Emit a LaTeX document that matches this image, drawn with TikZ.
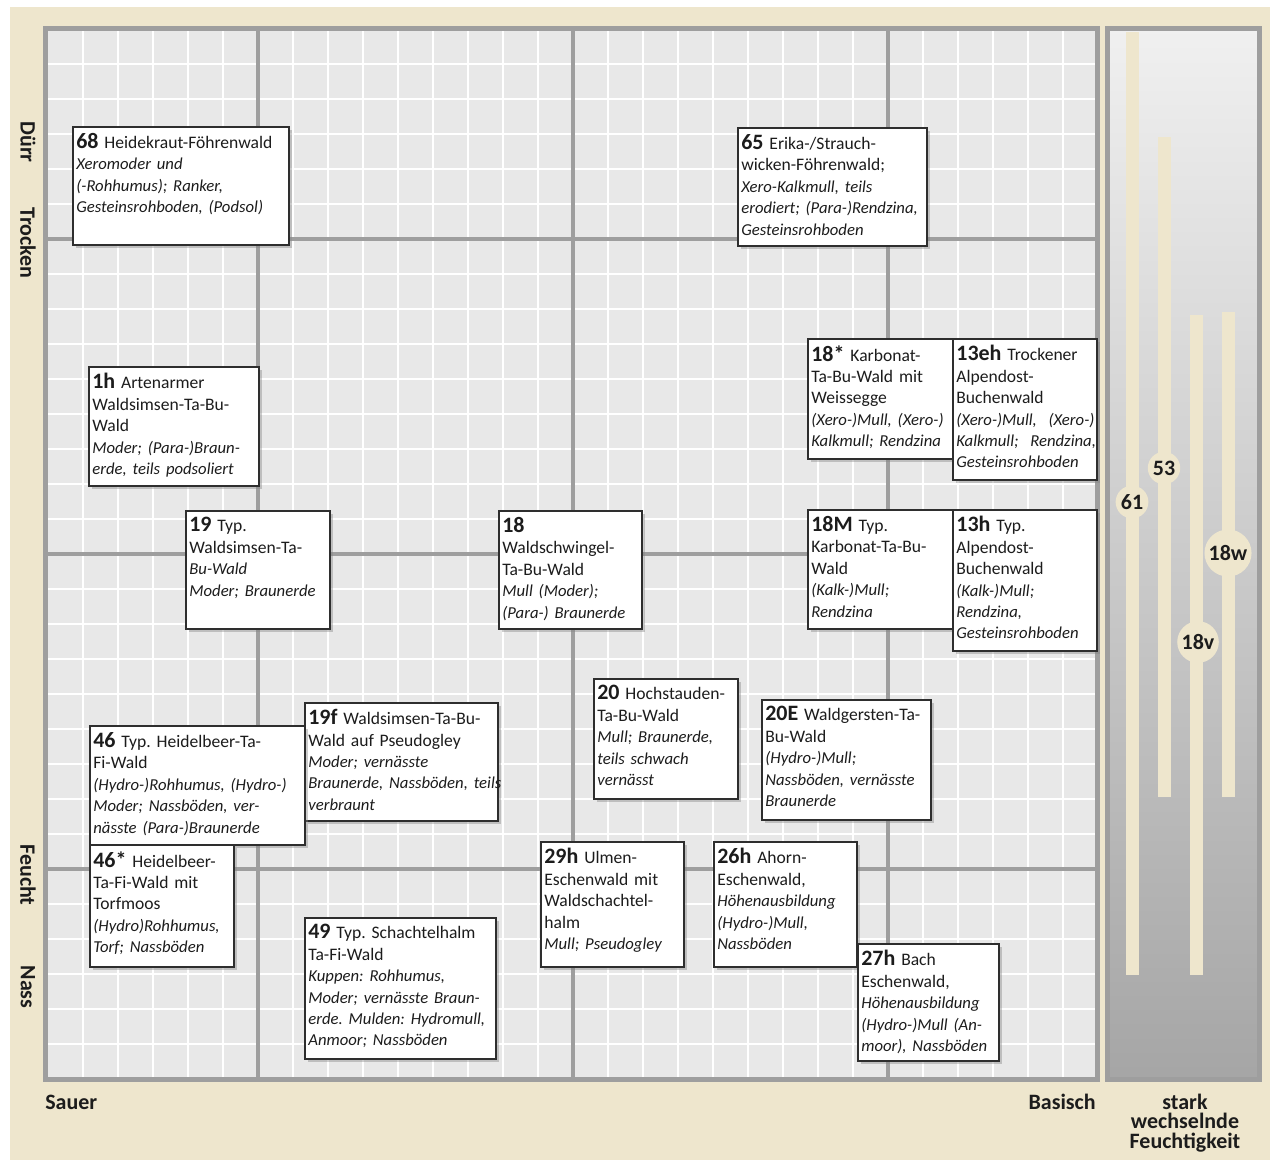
\documentclass[tikz,border=0pt]{standalone}
\usepackage{fontspec}
\setmainfont{Carlito}
\usepackage{xcolor}
\usepackage{tikz}
\usetikzlibrary{shadows}
\definecolor{sand}{HTML}{EEE6CD}
\definecolor{feld}{HTML}{E8E8E8}
\definecolor{linie}{HTML}{9E9E9E}
\definecolor{rahmen}{HTML}{2E2E2E}
\definecolor{schrift}{HTML}{1C1C1C}
\tikzset{
 wbox/.style={draw=rahmen,fill=white,line width=1pt,anchor=north west,inner sep=0pt,
   drop shadow={shadow xshift=1.8pt,shadow yshift=-1.8pt,opacity=.4}},
 wtext/.style={anchor=north west,inner sep=0pt,align=left,text=schrift,text width=8cm,
   font=\fontsize{10}{12.2}\selectfont\frenchspacing},
 achse/.style={inner sep=0pt,text=schrift,font=\fontsize{12.5}{11.3}\selectfont\bfseries},
 balken/.style={fill=sand,draw=none},
 stufe/.style={circle,fill=sand,inner sep=1.2pt,text=schrift,font=\fontsize{12.5}{12.5}\selectfont\bfseries}
}
\newcommand*{\wnum}[1]{{\fontsize{12.5}{12.2}\selectfont\bfseries #1}}
\newcommand*{\bod}[1]{{\fontsize{9.5}{12.2}\selectfont\itshape #1}}
\newcommand*{\waldbox}[7]{%
 \pgfmathsetlengthmacro\wbw{#4*0.02cm}\pgfmathsetlengthmacro\wbh{#5*0.02cm}%
 \node[wbox,minimum width=\wbw,minimum height=\wbh](#1)at(#2,#3){};
 \node[wtext](#1-t)at(#2+4,#3+7){\wnum{#6} #7};}

\begin{document}
\begin{tikzpicture}[x=0.02cm,y=-0.02cm]
\useasboundingbox(0,0)rectangle(1270,1160);
\fill[white](0,0)rectangle(1270,1160);
\fill[sand](10,7)rectangle(1270,1160);
%grid field
\begin{scope}
\clip(48,31)rectangle(1095,1077);
\fill[feld](48,31)rectangle(1095,1077);
\foreach\k in{1,...,30}{
 \draw[white,line width=1pt](48+35*\k,0)--(48+35*\k,1100);
 \draw[white,line width=1pt](0,29+35*\k)--(1100,29+35*\k);}
\foreach\k in{6,15,24}{
 \draw[linie,line width=2.2pt](48+35*\k,0)--(48+35*\k,1100);
 \draw[linie,line width=2.2pt](0,29+35*\k)--(1100,29+35*\k);}
\end{scope}
\draw[linie,line width=2.8pt](45.5,28.5)rectangle(1097.5,1079.5);
%side panel
\shade[top color=black!6,bottom color=black!35](1110,31)rectangle(1257,1077);
\draw[linie,line width=2.8pt](1107.5,28.5)rectangle(1259.5,1079.5);
\fill[balken](1126,32)rectangle(1139,975);
\fill[balken](1158,137)rectangle(1171,797);
\fill[balken](1190,315)rectangle(1203,975);
\fill[balken](1222,312)rectangle(1235,797);
\node[stufe](s61)at(1132,502){61};
\node[stufe](s53)at(1164,468){53};
\node[stufe](s18w)at(1228,553){18w};
\node[stufe](s18v)at(1198,642){18v};
%axes
\node[achse,rotate=-90](duerr)at(28,142){Dürr};
\node[achse,rotate=-90](trocken)at(28,243){Trocken};
\node[achse,rotate=-90](feucht)at(28,875){Feucht};
\node[achse,rotate=-90](nass)at(28,987){Nass};
\node[achse,anchor=west](sauer)at(45,1102){Sauer};
\node[achse,anchor=east](basisch)at(1096,1102){Basisch};
\node[achse,align=center](wechsel)at(1185,1123){stark\\wechselnde\\Feuchtigkeit};
%boxes
\waldbox{n68}{72}{126}{216}{118}{68}{Heidekraut-Föhrenwald\\\bod{Xeromoder und\\(-Rohhumus); Ranker,\\Gesteinsrohboden, (Podsol)}}
\waldbox{n65}{737}{127}{189}{118}{65}{Erika-/Strauch-\\wicken-Föhrenwald;\\\bod{Xero-Kalkmull, teils\\erodiert; (Para-)Rendzina,\\Gesteinsrohboden}}
\waldbox{n1h}{88}{366}{170}{119}{1h}{Artenarmer\\Waldsimsen-Ta-Bu-\\Wald\\\bod{Moder; (Para-)Braun-\\erde, teils podsoliert}}
\waldbox{n18s}{807}{338}{145}{120}{18*}{Karbonat-\\Ta-Bu-Wald mit\\Weissegge\\\bod{(Xero-)Mull, (Xero-)\\Kalkmull; Rendzina}}
\waldbox{n13eh}{952}{338}{144}{141}{13eh}{Trockener\\Alpendost-\\Buchenwald\\\bod{(Xero-)Mull,\ \ (Xero-)\\Kalkmull;\ \ Rendzina,\\Gesteinsrohboden}}
\waldbox{n19}{185}{510}{144}{118}{19}{Typ.\\Waldsimsen-Ta-\\\bod{Bu-Wald\\Moder; Braunerde}}
\waldbox{n18}{498}{510}{143}{118}{18}{\\Waldschwingel-\\Ta-Bu-Wald\\\bod{Mull (Moder);\\(Para-) Braunerde}}
\waldbox{n18M}{807}{509}{145}{119}{18M}{Typ.\\Karbonat-Ta-Bu-\\Wald\\\bod{(Kalk-)Mull;\\Rendzina}}
\waldbox{n13h}{952}{509}{144}{141}{13h}{Typ.\\Alpendost-\\Buchenwald\\\bod{(Kalk-)Mull;\\Rendzina,\\Gesteinsrohboden}}
\waldbox{n20}{593}{678}{144}{120}{20}{Hochstauden-\\Ta-Bu-Wald\\\bod{Mull; Braunerde,\\teils schwach\\vernässt}}
\waldbox{n20E}{761}{699}{169}{120}{20E}{Waldgersten-Ta-\\Bu-Wald\\\bod{(Hydro-)Mull;\\Nassböden, vernässte\\Braunerde}}
\waldbox{n19f}{304}{702}{193}{118}{19f}{Waldsimsen-Ta-Bu-\\Wald auf Pseudogley\\\bod{Moder; vernässte\\Braunerde, Nassböden, teils\\verbraunt}}
\waldbox{n46}{89}{725}{215}{119}{46}{Typ. Heidelbeer-Ta-\\Fi-Wald\\\bod{(Hydro-)Rohhumus, (Hydro-)\\Moder; Nassböden, ver-\\nässte (Para-)Braunerde}}
\waldbox{n46s}{89}{844}{144}{122}{46*}{Heidelbeer-\\Ta-Fi-Wald mit\\Torfmoos\\\bod{(Hydro)Rohhumus,\\Torf; Nassböden}}
\waldbox{n29h}{540}{841}{143}{125}{29h}{Ulmen-\\Eschenwald mit\\Waldschachtel-\\halm\\\bod{Mull; Pseudogley}}
\waldbox{n26h}{713}{841}{143}{125}{26h}{Ahorn-\\Eschenwald,\\\bod{Höhenausbildung\\(Hydro-)Mull,\\Nassböden}}
\waldbox{n27h}{857}{943}{141}{117}{27h}{Bach\\Eschenwald,\\\bod{Höhenausbildung\\(Hydro-)Mull (An-\\moor), Nassböden}}
\waldbox{n49}{304}{917}{191}{141}{49}{Typ. Schachtelhalm\\Ta-Fi-Wald\\\bod{Kuppen: Rohhumus,\\Moder; vernässte Braun-\\erde. Mulden: Hydromull,\\Anmoor; Nassböden}}
\end{tikzpicture}
\end{document}
